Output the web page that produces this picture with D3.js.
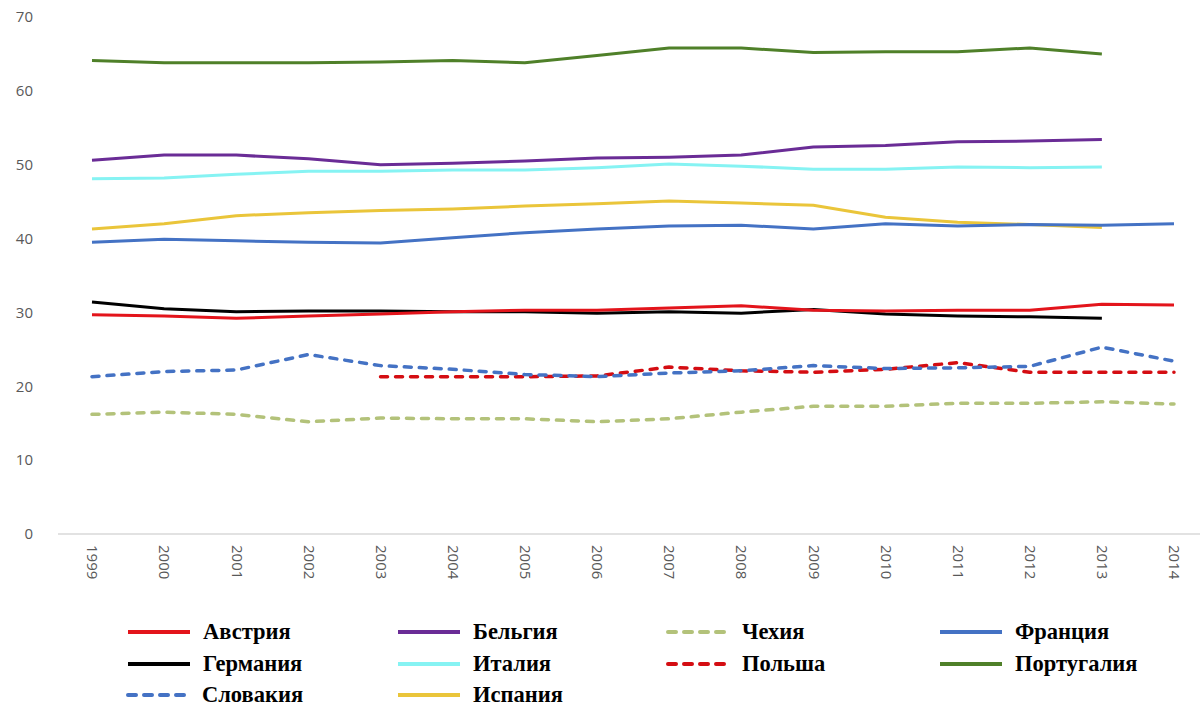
<!DOCTYPE html>
<html>
<head>
<meta charset="utf-8">
<script src="https://cdn.jsdelivr.net/npm/d3@7"></script>
<style>
  html, body { margin: 0; padding: 0; background: #fff; }
  svg { display: block; }
</style>
</head>
<body>
<svg id="chart" width="1202" height="708"></svg>
<script>
// Years on the x axis
const years = [1999, 2000, 2001, 2002, 2003, 2004, 2005, 2006, 2007, 2008, 2009, 2010, 2011, 2012, 2013, 2014];
const yTicks = [0, 10, 20, 30, 40, 50, 60, 70];

// Series values per country (null = no data)
const austria   = [29.7, 29.5, 29.2, 29.5, 29.8, 30.1, 30.3, 30.3, 30.6, 30.9, 30.3, 30.2, 30.3, 30.3, 31.1, 31.0];
const belgium   = [50.6, 51.3, 51.3, 50.8, 50.0, 50.2, 50.5, 50.9, 51.0, 51.3, 52.4, 52.6, 53.1, 53.2, 53.4, null];
const czechia   = [16.2, 16.5, 16.2, 15.2, 15.7, 15.6, 15.6, 15.2, 15.6, 16.5, 17.3, 17.3, 17.7, 17.7, 17.9, 17.6];
const france    = [39.5, 39.9, 39.7, 39.5, 39.4, 40.1, 40.8, 41.3, 41.7, 41.8, 41.3, 42.0, 41.7, 41.9, 41.8, 42.0];
const germany   = [31.4, 30.5, 30.1, 30.2, 30.2, 30.1, 30.1, 29.9, 30.1, 29.9, 30.4, 29.8, 29.5, 29.4, 29.2, null];
const italy     = [48.1, 48.2, 48.7, 49.1, 49.1, 49.3, 49.3, 49.6, 50.1, 49.8, 49.4, 49.4, 49.7, 49.6, 49.7, null];
const poland    = [null, null, null, null, 21.3, 21.3, 21.3, 21.4, 22.6, 22.1, 21.9, 22.3, 23.2, 21.9, 21.9, 21.9];
const portugal  = [64.1, 63.8, 63.8, 63.8, 63.9, 64.1, 63.8, 64.8, 65.8, 65.8, 65.2, 65.3, 65.3, 65.8, 65.0, null];
const slovakia  = [21.3, 22.0, 22.2, 24.3, 22.8, 22.3, 21.6, 21.3, 21.8, 22.1, 22.8, 22.4, 22.5, 22.7, 25.3, 23.4];
const spain     = [41.3, 42.0, 43.1, 43.5, 43.8, 44.0, 44.4, 44.7, 45.1, 44.8, 44.5, 42.9, 42.2, 41.9, 41.5, null];

// Legend order (row by row, four columns)
const names  = ["Австрия", "Бельгия", "Чехия", "Франция", "Германия", "Италия", "Польша", "Португалия", "Словакия", "Испания"];
const values = [austria, belgium, czechia, france, germany, italy, poland, portugal, slovakia, spain];
const colors = ["#e3141b", "#6a2c96", "#b3c27a", "#4472c4", "#000000", "#86f3f3", "#d40d12", "#4f8029", "#4472c4", "#eac53a"];
const dashed = [false, false, true, false, false, false, true, false, true, false];

const series = names.map((name, i) => ({ name, values: values[i], color: colors[i], dashed: dashed[i] }));

// Drawing order: background lines first
const drawOrder = ["Португалия", "Бельгия", "Италия", "Испания", "Франция", "Германия", "Австрия", "Чехия", "Польша", "Словакия"];

const svg = d3.select("#chart");

const x = d3.scalePoint().domain(years).range([92, 1174]);
const y = d3.scaleLinear().domain([0, 70]).range([534, 17]);

// Baseline
svg.append("line")
  .attr("x1", 58).attr("x2", 1200)
  .attr("y1", y(0)).attr("y2", y(0))
  .attr("stroke", "#d9d9d9").attr("stroke-width", 1.5);

// Y axis labels
const yAxis = d3.axisLeft(y).tickValues(yTicks).tickSize(0).tickPadding(0);
const gy = svg.append("g").attr("transform", "translate(33,0)").call(yAxis);
gy.select(".domain").remove();
gy.selectAll("text")
  .attr("fill", "#595959")
  .style("font-family", "'Open Sans', 'DejaVu Sans', sans-serif")
  .style("font-size", "15px");

// X axis labels, rotated to read downward
const xAxis = d3.axisBottom(x).tickSize(0).tickFormat(d3.format("d"));
const gx = svg.append("g").attr("transform", `translate(0,${y(0)})`).call(xAxis);
gx.select(".domain").remove();
gx.selectAll("text")
  .attr("fill", "#595959")
  .style("font-family", "'Open Sans', 'DejaVu Sans', sans-serif")
  .style("font-size", "15px")
  .attr("text-anchor", "start")
  .attr("dy", "0.35em")
  .attr("transform", "translate(0,11) rotate(90)")
  .attr("x", 0).attr("y", 0);

// Lines
const line = d3.line()
  .defined(d => d.v !== null)
  .x(d => x(d.year))
  .y(d => y(d.v));

const ordered = drawOrder.map(n => series.find(s => s.name === n));
svg.append("g").selectAll("path")
  .data(ordered)
  .join("path")
  .attr("d", s => line(years.map((yr, i) => ({ year: yr, v: s.values[i] }))))
  .attr("fill", "none")
  .attr("stroke", s => s.color)
  .attr("stroke-width", s => s.dashed ? 3.5 : 3)
  .attr("stroke-linejoin", "round")
  .attr("stroke-linecap", s => s.dashed ? "round" : "butt")
  .attr("stroke-dasharray", s => s.dashed ? "7,8" : null);

// Legend
const colX = [128, 398, 668, 940];
const rowY = [632, 664, 695];
const legend = svg.append("g");
const items = legend.selectAll("g")
  .data(series)
  .join("g")
  .attr("transform", (d, i) => `translate(${colX[i % 4]},${rowY[Math.floor(i / 4)]})`);

items.append("line")
  .attr("x1", 0).attr("x2", 62)
  .attr("y1", 0).attr("y2", 0)
  .attr("stroke", d => d.color)
  .attr("stroke-width", 4)
  .attr("stroke-linecap", d => d.dashed ? "round" : "butt")
  .attr("stroke-dasharray", d => d.dashed ? "8,8" : null);

// Bold serif labels
items.append("text")
  .attr("x", d => d.dashed ? 74 : 75)
  .attr("y", 0)
  .attr("dy", "0.33em")
  .attr("fill", "#000")
  .style("font-family", "'Liberation Serif', 'DejaVu Serif', serif")
  .style("font-weight", "bold")
  .style("font-size", "22.5px")
  .text(d => d.name);
</script>
</body>
</html>
